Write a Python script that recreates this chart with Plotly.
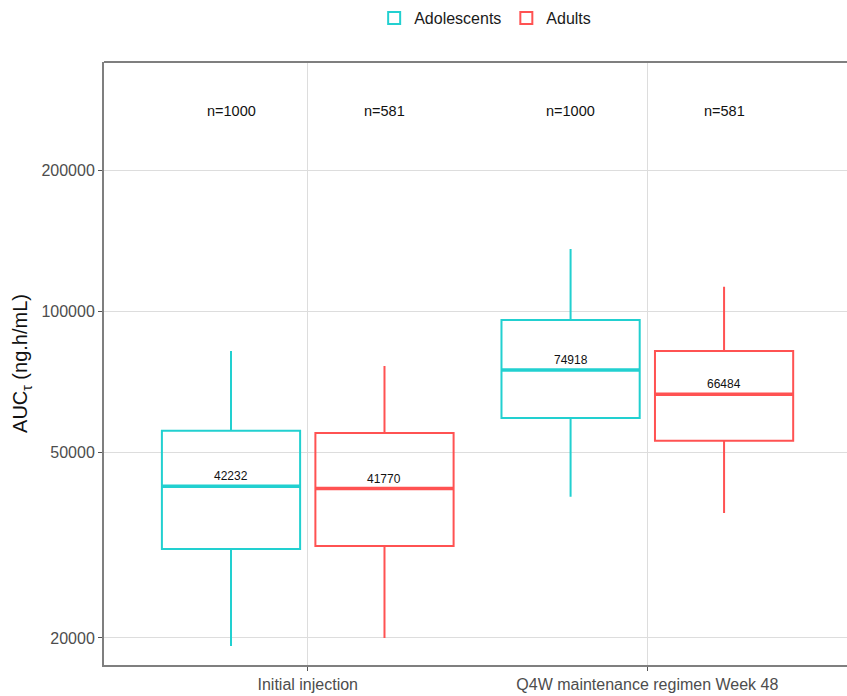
import math
import plotly.graph_objects as go

# Regimen categories and exposure summaries (AUC_tau, ng.h/mL)
categories = ["Initial injection", "Q4W maintenance regimen Week 48"]
groups = ["Adolescents", "Adults"]
colors = {"Adolescents": "#22D0D0", "Adults": "#FF5252"}

n_counts = {"Adolescents": [1000, 1000], "Adults": [581, 581]}
lower_whisker = {"Adolescents": [19220, 40090], "Adults": [20000, 37040]}
q1 = {"Adolescents": [31010, 59160], "Adults": [31480, 52830]}
median = {"Adolescents": [42232, 74918], "Adults": [41770, 66484]}
q3 = {"Adolescents": [55520, 95900], "Adults": [54950, 82300]}
upper_whisker = {"Adolescents": [82300, 136100], "Adults": [76440, 112900]}

y_ticks = [20000, 50000, 100000, 200000]

dodge = {"Adolescents": -0.226, "Adults": 0.226}
box_w = 0.407

fig = go.Figure()
annotations = []
for g in groups:
    xs = [i + dodge[g] for i in range(len(categories))]
    fig.add_trace(go.Box(
        name=g, x=xs,
        q1=q1[g], median=median[g], q3=q3[g],
        lowerfence=lower_whisker[g], upperfence=upper_whisker[g],
        width=box_w, whiskerwidth=0,
        line=dict(color=colors[g], width=2),
        fillcolor="rgba(255,255,255,0)",
        boxpoints=False, hoverinfo="skip",
    ))
    for x, m, n in zip(xs, median[g], n_counts[g]):
        # thicker median bar
        fig.add_trace(go.Scatter(
            x=[x - box_w / 2, x + box_w / 2], y=[m, m], mode="lines",
            line=dict(color=colors[g], width=3.5), showlegend=False, hoverinfo="skip",
        ))
        # annotations on a log axis take log10 positions
        annotations.append(dict(
            x=x, y=math.log10(m), xref="x", yref="y", text=str(m), showarrow=False,
            yanchor="bottom", yshift=1, font=dict(size=12, color="#111111"),
        ))
        annotations.append(dict(
            x=x, y=0.9187, xref="x", yref="paper", text=f"n={n}", showarrow=False,
            yanchor="middle", font=dict(size=14.5, color="#111111"),
        ))

fig.update_layout(
    width=847, height=696,
    margin=dict(l=104, r=0, t=62, b=31),
    paper_bgcolor="white", plot_bgcolor="white",
    font=dict(family="Liberation Sans, Arial, sans-serif", color="#4D4D4D"),
    boxmode="overlay",
    annotations=annotations,
    shapes=[dict(type="line", xref="paper", yref="paper", x0=0, x1=1.02, y0=1, y1=1,
                 line=dict(color="#7F7F7F", width=2))],
    legend=dict(
        orientation="h", x=0.513, xanchor="center", y=1.073, yanchor="middle",
        font=dict(size=16, color="#1a1a1a"), itemwidth=30,
    ),
    xaxis=dict(
        range=[-0.6, 1.588],
        tickvals=list(range(len(categories))), ticktext=categories,
        showgrid=True, gridcolor="#DDDDDD", gridwidth=1,
        ticks="outside", ticklen=4, tickcolor="#555555",
        tickfont=dict(size=16, color="#4D4D4D"),
        showline=True, linecolor="#7F7F7F", linewidth=2,
        zeroline=False,
    ),
    yaxis=dict(
        type="log", range=[4.243, 5.534],
        tickvals=y_ticks, ticktext=[str(v) for v in y_ticks],
        showgrid=True, gridcolor="#DDDDDD", gridwidth=1,
        ticks="outside", ticklen=4, tickcolor="#555555",
        tickfont=dict(size=16, color="#4D4D4D"),
        showline=True, linecolor="#7F7F7F", linewidth=2,
        title=dict(text="AUC<sub>τ</sub> (ng.h/mL)", font=dict(size=20, color="#111111"), standoff=8),
        zeroline=False,
    ),
)

fig.write_html("out.html")
